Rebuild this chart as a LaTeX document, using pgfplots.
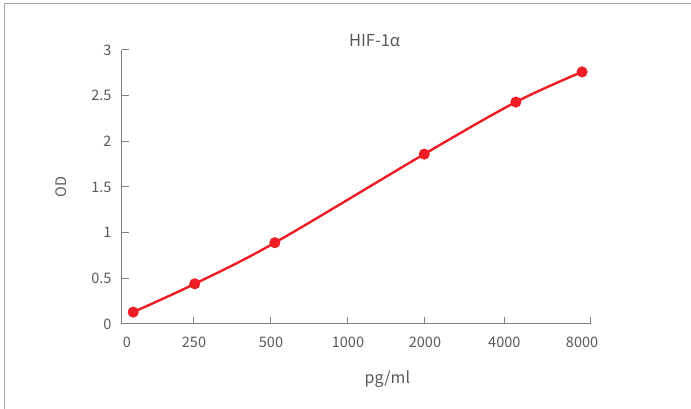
\documentclass[border=0pt]{standalone}
\usepackage{fontspec}
\setmainfont{Noto Sans CJK SC}
\usepackage{pgfplots}
\pgfplotsset{compat=1.18}
\definecolor{cRed}{HTML}{EE1C25}
\definecolor{cTxt}{HTML}{595959}
\definecolor{cAx}{HTML}{808080}
\definecolor{cBox}{HTML}{A6A6A6}

% x is a position on the (unevenly labelled) concentration axis:
% one unit per tick step, as the original sheet draws it
\pgfplotstableread{
pos   od
0.21  0.13
1.01  0.44
2.05  0.89
3.99  1.86
5.18  2.43
6.04  2.76
}\stdcurve

\begin{document}
\begin{tikzpicture}
\useasboundingbox (-122pt,-85pt) rectangle (569pt,324pt);
\draw[cBox, line width=0.8pt] (-118pt,-90pt) -- (-118pt,321pt) -- (575pt,321pt);
\begin{axis}[
  at={(0,0)}, anchor=south west,
  scale only axis, width=468pt, height=274pt,
  xmin=0.065, xmax=6.143, ymin=0, ymax=3,
  axis x line*=bottom, axis y line*=left,
  axis line style={draw=cAx, line width=1pt},
  tick style={draw=cAx, line width=1pt},
  tick align=inside,
  major tick length=7pt,
  xtick={1,2,3,4,5.03,6.143},
  xticklabels={250,500,1000,2000,4000,},
  extra x ticks={0.13,6.04},
  extra x tick labels={0,8000},
  extra x tick style={major tick length=0pt},
  ytick={0,0.5,...,3},
  /pgf/number format/assume math mode=true,
  tick label style={font=\fontsize{14.5}{16}\selectfont, color=cTxt},
  xticklabel style={yshift=-9pt},
  yticklabel style={xshift=-7pt},
  title={HIF-1α},
  title style={font=\fontsize{16.5}{18}\selectfont, color=cTxt, at={(0.54,1)}, yshift=-6pt},
  xlabel={pg/ml},
  xlabel style={font=\fontsize{16}{18}\selectfont, color=cTxt,
    at={(axis description cs:0.567,0)}, anchor=north, yshift=-43pt},
  ylabel={OD},
  ylabel style={font=\fontsize{14.5}{16}\selectfont, color=cTxt, yshift=18pt},
  clip=false,
]
  \addplot[cRed, line width=2.4pt, smooth, tension=0.55,
    mark=*, mark size=5.3pt, mark options={fill=cRed, draw=cRed, line width=0.4pt}]
    table[x=pos, y=od] {\stdcurve};
\end{axis}
\end{tikzpicture}
\end{document}
